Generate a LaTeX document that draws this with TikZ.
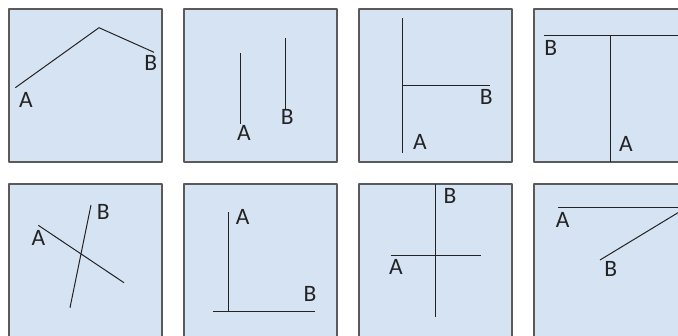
\documentclass[tikz,border=0pt]{standalone}
\usepackage{fontspec}
\setmainfont{Carlito}
\definecolor{panelfill}{RGB}{214,227,243}
\definecolor{panelrim}{RGB}{90,90,90}
\definecolor{inkline}{RGB}{35,35,35}
\begin{document}
\begin{tikzpicture}[x=1pt,y=-1pt,line join=round,
  panel/.style={draw=panelrim,fill=panelfill,line width=1.3pt},
  segline/.style={draw=inkline,line width=1pt},
  lbl/.style={font=\fontsize{23.5}{23.5}\selectfont,text=inkline,inner sep=0pt}]
  \useasboundingbox (0,0) rectangle (678,335);
  \foreach \px in {9,184,359,534}
    \foreach \py in {9,184}
      \draw[panel] (\px,\py) rectangle ++(153,153);
  % top row
  \coordinate (a1) at (15.3,87.7);
  \coordinate (k1) at (99,27.7);
  \coordinate (b1) at (154,52.3);
  \draw[segline] (a1) -- (k1) -- (b1);
  \node[lbl] (A1) at (26,100) {A};
  \node[lbl] (B1) at (150.7,63.3) {B};
  \coordinate (a2t) at (240.7,53.3);
  \coordinate (a2b) at (240.7,124);
  \coordinate (b2t) at (285,38.3);
  \coordinate (b2b) at (285,110);
  \draw[segline] (a2t) -- (a2b);
  \draw[segline] (b2t) -- (b2b);
  \node[lbl] (A2) at (244,133.3) {A};
  \node[lbl] (B2) at (287.3,117.3) {B};
  \coordinate (a3t) at (402,18.3);
  \coordinate (a3b) at (402,152.7);
  \coordinate (b3l) at (402,85.7);
  \coordinate (b3r) at (490,85.7);
  \draw[segline] (a3t) -- (a3b);
  \draw[segline] (b3l) -- (b3r);
  \node[lbl] (A3) at (420,141.7) {A};
  \node[lbl] (B3) at (486.3,96.7) {B};
  \coordinate (b4l) at (544,35.7);
  \coordinate (b4r) at (680,35.7);
  \coordinate (a4t) at (610.3,35.7);
  \coordinate (a4b) at (610.3,162);
  \draw[segline] (b4l) -- (b4r);
  \draw[segline] (a4t) -- (a4b);
  \node[lbl] (A4) at (626,144) {A};
  \node[lbl] (B4) at (550.7,48.3) {B};
  % bottom row
  \coordinate (a5l) at (38.3,225.3);
  \coordinate (a5r) at (124,282.7);
  \coordinate (b5t) at (91,205);
  \coordinate (b5b) at (70,307.7);
  \draw[segline] (a5l) -- (a5r);
  \draw[segline] (b5t) -- (b5b);
  \node[lbl] (A5) at (38.3,237.7) {A};
  \node[lbl] (B5) at (103.3,211.7) {B};
  \coordinate (a6t) at (228.3,212.3);
  \coordinate (a6b) at (228.3,311.7);
  \coordinate (b6l) at (213.3,311.7);
  \coordinate (b6r) at (315,311.7);
  \draw[segline] (a6t) -- (a6b);
  \draw[segline] (b6l) -- (b6r);
  \node[lbl] (A6) at (242.7,216.7) {A};
  \node[lbl] (B6) at (310,294.3) {B};
  \coordinate (b7t) at (435.3,184);
  \coordinate (b7b) at (435.3,316.7);
  \coordinate (a7l) at (390.7,255.7);
  \coordinate (a7r) at (480.7,255.7);
  \draw[segline] (b7t) -- (b7b);
  \draw[segline] (a7l) -- (a7r);
  \node[lbl] (A7) at (396,267.3) {A};
  \node[lbl] (B7) at (450,195.7) {B};
  \coordinate (a8l) at (558,207.7);
  \coordinate (a8r) at (680,207.7);
  \coordinate (b8l) at (600,260);
  \coordinate (b8r) at (678,212.7);
  \draw[segline] (a8l) -- (a8r);
  \draw[segline] (b8l) -- (b8r);
  \node[lbl] (A8) at (562.7,220) {A};
  \node[lbl] (B8) at (610.7,269) {B};
\end{tikzpicture}
\end{document}
